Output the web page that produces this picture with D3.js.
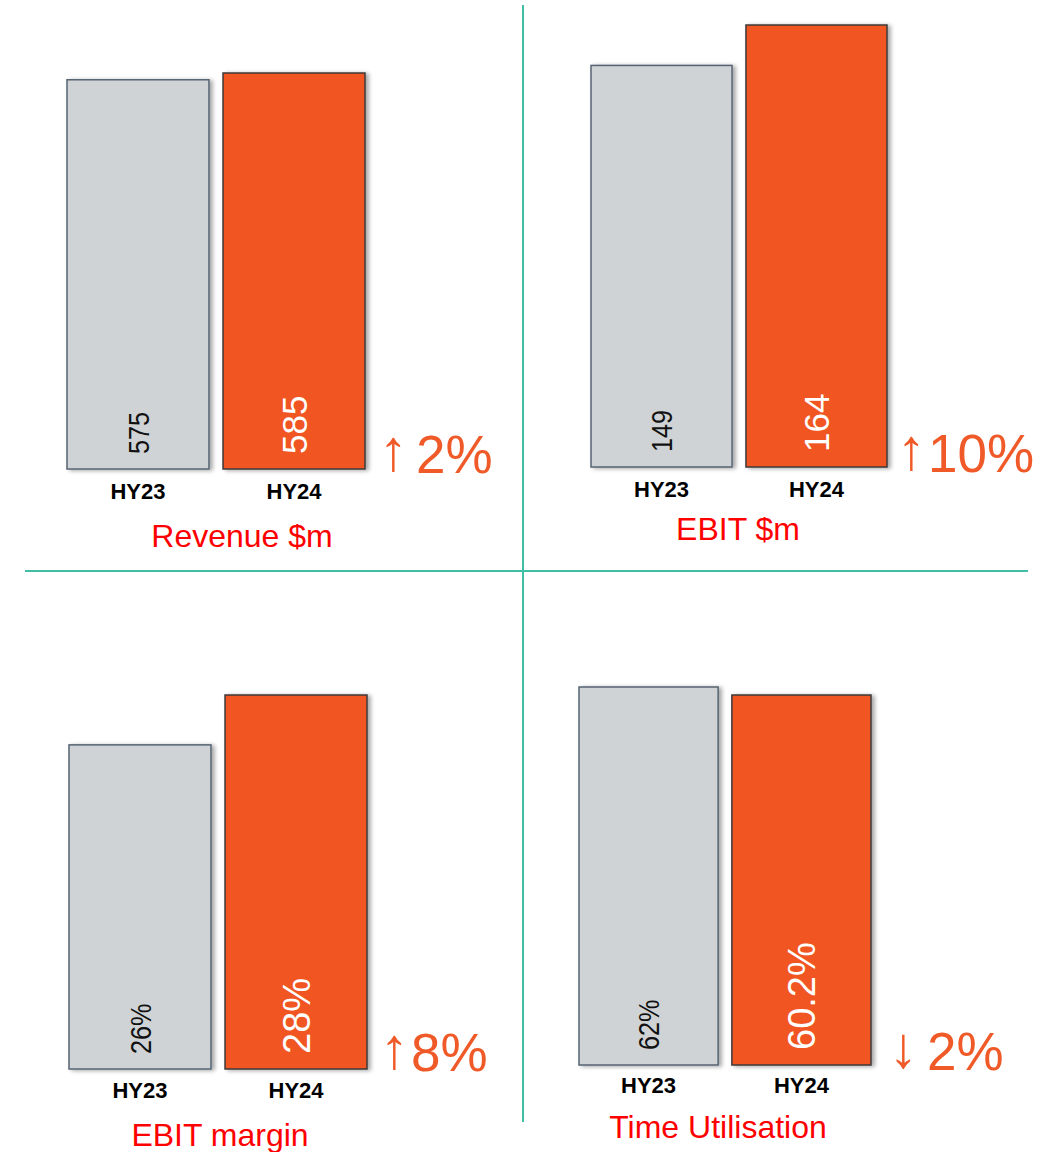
<!DOCTYPE html>
<html>
<head>
<meta charset="utf-8">
<script src="https://cdn.jsdelivr.net/npm/d3@7/dist/d3.min.js"></script>
<style>
  html, body { margin: 0; padding: 0; background: #fff; }
  svg { display: block; }
  text { font-family: "Liberation Sans", Arial, Helvetica, sans-serif; }
</style>
</head>
<body>
<svg id="chart" width="1048" height="1152"></svg>
<script>
// ---- Data ----
const panelTitles = ["Revenue $m", "EBIT $m", "EBIT margin", "Time Utilisation"];
const categories = ["HY23", "HY24"];
const hy23Values = [575, 149, 26, 62];
const hy24Values = [585, 164, 28, 60.2];
const hy23Labels = ["575", "149", "26%", "62%"];
const hy24Labels = ["585", "164", "28%", "60.2%"];
const changeArrows = ["\u2191", "\u2191", "\u2191", "\u2193"];
const changeLabels = ["2%", "10%", "8%", "2%"];

// ---- Layout (positions / styles) ----
const layout = [
  { x0: 67,  x1: 365, base: 469, top: 73,  dMin: 0,   catY: 499,  titleX: 242, titleY: 547,  arrowX: 379, chgX: 416, chgY: 473,  bigSize: 35 },
  { x0: 591, x1: 887, base: 467, top: 25,  dMin: 0,   catY: 497,  titleX: 738, titleY: 540,  arrowX: 897, chgX: 928, chgY: 472,  bigSize: 35 },
  { x0: 69,  x1: 367, base: 1069, top: 695, dMin: 13, catY: 1098, titleX: 220, titleY: 1146, arrowX: 380, chgX: 411, chgY: 1071, bigSize: 38 },
  { x0: 579, x1: 871, base: 1065, top: 687, dMin: -23, catY: 1093, titleX: 718, titleY: 1138, arrowX: 889, chgX: 927, chgY: 1070, bigSize: 38 }
];

const fills = ["#cfd3d5", "#f05423"];
const strokes = ["#566473", "#3c3a3a"];
const labelColors = ["#111111", "#ffffff"];

const svg = d3.select("#chart");

// drop shadow filter
const defs = svg.append("defs");
const f = defs.append("filter").attr("id", "shadow")
  .attr("x", "-10%").attr("y", "-10%").attr("width", "130%").attr("height", "120%");
f.append("feDropShadow").attr("dx", 3).attr("dy", 1).attr("stdDeviation", 2)
  .attr("flood-color", "#000").attr("flood-opacity", 0.35);

// dividers
svg.append("line").attr("x1", 523).attr("x2", 523).attr("y1", 5).attr("y2", 1122)
  .attr("stroke", "#40bfa6").attr("stroke-width", 2);
svg.append("line").attr("x1", 25).attr("x2", 1028).attr("y1", 571).attr("y2", 571)
  .attr("stroke", "#40bfa6").attr("stroke-width", 2);

panelTitles.forEach((title, i) => {
  const L = layout[i];
  const vals = [hy23Values[i], hy24Values[i]];
  const labs = [hy23Labels[i], hy24Labels[i]];
  const dMax = Math.max(...vals);
  const x = d3.scaleBand().domain(categories).range([L.x0, L.x1]).paddingInner(0.09).paddingOuter(0);
  const y = d3.scaleLinear().domain([L.dMin, dMax]).range([L.base, L.top]);
  const g = svg.append("g");

  const data = categories.map((c, j) => ({ c, v: vals[j], lab: labs[j], j }));

  g.selectAll("rect.bar").data(data).join("rect")
    .attr("class", "bar")
    .attr("x", d => x(d.c))
    .attr("y", d => y(d.v))
    .attr("width", x.bandwidth())
    .attr("height", d => y(L.dMin) - y(d.v))
    .attr("fill", d => fills[d.j])
    .attr("stroke", d => strokes[d.j])
    .attr("stroke-width", 1.5)
    .attr("filter", "url(#shadow)");

  // value labels rotated
  g.selectAll("text.val").data(data).join("text")
    .attr("class", "val")
    .attr("transform", d => {
      const cx = x(d.c) + x.bandwidth() / 2;
      const cy = y(L.dMin) - 15;
      return d.j === 0
        ? `translate(${cx},${cy}) rotate(-90) scale(0.84,1)`
        : `translate(${cx},${cy}) rotate(-90)`;
    })
    .attr("dy", "0.36em")
    .attr("text-anchor", "start")
    .attr("font-size", d => d.j === 0 ? 30 : L.bigSize)
    .attr("fill", d => labelColors[d.j])
    .text(d => d.lab);

  // x axis category labels
  const axis = d3.axisBottom(x).tickSize(0).tickPadding(0);
  const ax = g.append("g").attr("transform", `translate(0,${L.catY})`).call(axis);
  ax.select(".domain").remove();
  ax.selectAll("text")
    .attr("dy", 0).attr("y", 0)
    .attr("font-size", 22).attr("font-weight", "bold")
    .attr("fill", "#000")
    .style("font-family", '"Liberation Sans", Arial, sans-serif');

  // title
  g.append("text")
    .attr("x", L.titleX).attr("y", L.titleY)
    .attr("text-anchor", "middle")
    .attr("font-size", 32)
    .attr("fill", "#ff0000")
    .text(title);

  // change indicator
  g.append("text")
    .attr("x", L.arrowX).attr("y", L.chgY - 3)
    .attr("font-size", 58)
    .attr("fill", "#f05a28")
    .text(changeArrows[i]);
  g.append("text")
    .attr("x", L.chgX).attr("y", L.chgY)
    .attr("font-size", 53)
    .attr("fill", "#f05a28")
    .text(changeLabels[i]);
});
</script>
</body>
</html>
